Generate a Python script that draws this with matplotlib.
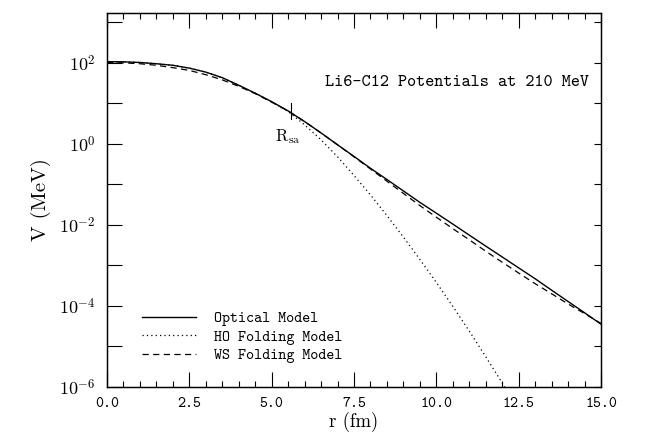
import numpy as np
import matplotlib
matplotlib.use("Agg")
import matplotlib.pyplot as plt
from matplotlib.ticker import MultipleLocator, FixedLocator, FuncFormatter, NullLocator, NullFormatter

# ---- data ----
r_grid = [0.0, 0.5, 1.0, 1.5, 2.0, 2.5, 3.0, 3.5, 4.0, 4.5, 5.0, 5.5, 6.0, 6.5, 7.0, 7.5,
          8.0, 8.5, 9.0, 9.5, 10.0, 10.5, 11.0, 11.5, 12.0, 12.5, 13.0, 13.5, 14.0, 14.5, 15.0]
v_optical = [107, 106, 102, 95, 87, 74, 59, 43, 28, 17.8, 11.0, 6.5, 3.55, 1.86, 0.95, 0.49,
             0.25, 0.132, 0.069, 0.036, 0.0195, 0.0105, 0.0056, 0.0030, 0.00162, 0.00087,
             0.00047, 0.000245, 0.000129, 6.8e-5, 3.55e-5]
v_ws = [102, 100, 95, 87, 76, 65, 51, 38, 26.3, 17.4, 10.7, 6.5, 3.55, 1.86, 0.95, 0.48,
        0.24, 0.12, 0.060, 0.030, 0.0155, 0.0081, 0.0043, 0.00224, 0.0012, 0.00065,
        0.000355, 0.0002, 0.000112, 6.5e-5, 3.7e-5]
r_ho = [0.0, 0.5, 1.0, 1.5, 2.0, 2.5, 3.0, 3.5, 4.0, 4.5, 5.0, 5.5, 6.0, 6.5, 7.0, 7.5,
        8.0, 8.5, 9.0, 9.5, 10.0, 10.5, 11.0, 11.5, 12.0, 12.1]
v_ho = [107, 106, 102, 95, 87, 74, 59, 43, 28, 17.8, 11.0, 6.3, 2.95, 1.26, 0.48, 0.166,
        0.055, 0.017, 0.0050, 0.00141, 0.00038, 9.8e-5, 2.4e-5, 5.6e-6, 1.26e-6, 9.3e-7]
labels = ["Optical Model", "HO Folding Model", "WS Folding Model"]
title_text = "Li6-C12 Potentials at 210 MeV"
r_sa = 5.6
r_sa_span = [4.0, 10.4]
r_sa_label_v = 1.5

plt.rcParams["mathtext.fontset"] = "cm"

fig = plt.figure(figsize=(6.61, 4.32), dpi=100)
L, R, T, B = 107, 601, 13, 387
ax = fig.add_axes([L / 661, 1 - B / 432, (R - L) / 661, (B - T) / 432])

ax.plot(r_grid, v_optical, color="k", lw=1.0, label=labels[0])
ax.plot(r_ho, v_ho, color="k", lw=0.9, linestyle=(0, (1, 2.5)), label=labels[1])
ax.plot(r_grid, v_ws, color="k", lw=0.9, linestyle=(0, (5, 3.5)), label=labels[2])

ax.set_yscale("log")
ax.set_xlim(0, 15)
ax.set_ylim(1e-6, 10 ** 3.23)

ax.xaxis.set_major_locator(MultipleLocator(2.5))
ax.xaxis.set_minor_locator(MultipleLocator(0.5))
ax.xaxis.set_major_formatter(FuncFormatter(lambda v, p: "%.1f" % v))
ax.yaxis.set_major_locator(FixedLocator([10.0 ** k for k in range(-6, 4)]))
ax.yaxis.set_minor_locator(NullLocator())

def yfmt(v, p):
    k = int(round(np.log10(v)))
    return r"$10^{%d}$" % k if k % 2 == 0 else ""

ax.yaxis.set_major_formatter(FuncFormatter(yfmt))
ax.tick_params(which="major", direction="in", length=11, width=0.8, top=True, right=False)
ax.tick_params(which="minor", direction="in", length=4, width=0.8, top=True, right=False)
ax.tick_params(axis="y", labelsize=13, pad=8)
ax.tick_params(axis="x", pad=7)
for lab in ax.get_xticklabels():
    lab.set_family("cmtt10")
    lab.set_fontsize(11)

ax2 = ax.twinx()
ax2.set_yscale("log")
ax2.set_ylim(ax.get_ylim())
ax2.yaxis.set_major_locator(FixedLocator([10.0 ** k for k in range(-6, 4)]))
ax2.yaxis.set_minor_locator(NullLocator())
ax2.yaxis.set_major_formatter(NullFormatter())
ax2.tick_params(direction="in", length=5, width=0.8)

for a in (ax, ax2):
    for s in a.spines.values():
        s.set_linewidth(0.9)

ax.text(0.975, 0.815, title_text, transform=ax.transAxes, family="cmtt10",
        fontsize=12.5, va="center", ha="right")

ax.plot([r_sa, r_sa], r_sa_span, color="k", lw=0.8)
ax.text(r_sa - 0.1, r_sa_label_v, r"$\mathrm{R}_{\mathrm{sa}}$", ha="center", va="center", fontsize=12)

ax.legend(loc="lower left", bbox_to_anchor=(0.071, 0.064), frameon=False,
          prop={"family": "cmtt10", "size": 11}, handlelength=3.5, handletextpad=1.2,
          labelspacing=0.25, borderpad=0, borderaxespad=0)

ax.set_xlabel("r (fm)", family="cmr10", fontsize=13.5, labelpad=1)
ax.set_ylabel("V (MeV)", family="cmr10", fontsize=15, labelpad=6)

fig.savefig("out.png", dpi=100)
